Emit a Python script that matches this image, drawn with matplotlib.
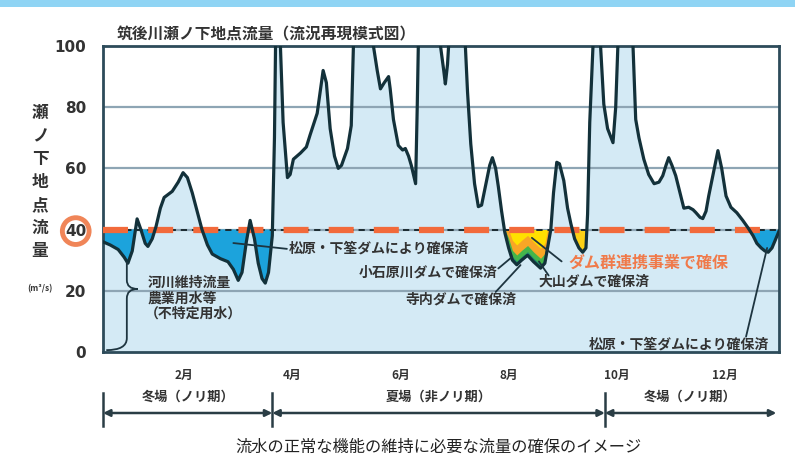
import numpy as np
import matplotlib.pyplot as plt
from matplotlib.patches import Rectangle, PathPatch
from matplotlib.path import Path
from matplotlib.transforms import blended_transform_factory

plt.rcParams['font.family'] = ['Noto Sans CJK JP', 'DejaVu Sans']
plt.rcParams['lines.scale_dashes'] = False

# flow at Senoshita (m3/s); x in months from the start of January
month_pos = [0.00, 0.13, 0.28, 0.39, 0.46, 0.54, 0.63, 0.70, 0.78, 0.83,
             0.91, 0.98, 1.06, 1.13, 1.28, 1.39, 1.48, 1.56, 1.65, 1.74,
             1.83, 1.93, 2.02, 2.17, 2.31, 2.41, 2.50, 2.57, 2.65, 2.72,
             2.80, 2.87, 2.94, 3.00, 3.06, 3.13, 3.17, 3.19, 3.23, 3.28,
             3.33, 3.41, 3.46, 3.52, 3.65, 3.76, 3.83, 3.96, 4.07, 4.13,
             4.20, 4.28, 4.35, 4.41, 4.52, 4.59, 4.63, 4.81, 5.00, 5.07,
             5.13, 5.20, 5.28, 5.31, 5.37, 5.46, 5.54, 5.59, 5.65, 5.70,
             5.78, 5.81, 5.83, 6.04, 6.24, 6.30, 6.33, 6.37, 6.39, 6.54,
             6.70, 6.74, 6.80, 6.87, 6.94, 7.00, 7.07, 7.15, 7.20, 7.26,
             7.31, 7.37, 7.43, 7.50, 7.57, 7.65, 7.74, 7.85, 7.96, 8.09,
             8.17, 8.22, 8.28, 8.33, 8.39, 8.44, 8.52, 8.59, 8.65, 8.72,
             8.80, 8.87, 8.93, 8.96, 9.00, 9.06, 9.13, 9.20, 9.26, 9.33,
             9.43, 9.48, 9.52, 9.65, 9.80, 9.85, 9.91, 10.00, 10.09, 10.19,
             10.28, 10.35, 10.41, 10.46, 10.52, 10.59, 10.67, 10.74, 10.83, 10.91,
             10.96, 11.04, 11.09, 11.15, 11.20, 11.28, 11.37, 11.44, 11.52, 11.61,
             11.72, 11.83, 11.93, 12.02, 12.09, 12.17, 12.24, 12.30, 12.37, 12.44,
             12.50]
flow = [36.0, 35.0, 33.5, 31.0, 29.0, 33.0, 43.5, 40.0, 35.5, 34.5,
        37.0, 41.0, 47.0, 50.5, 52.5, 55.5, 58.6, 57.0, 52.0, 46.0,
        40.0, 35.0, 32.0, 30.5, 29.5, 27.0, 23.4, 26.0, 36.0, 43.0,
        37.0, 29.0, 24.0, 22.5, 26.0, 38.0, 70.0, 100.0, 110.0, 100.0,
        75.0, 57.0, 58.0, 63.0, 65.0, 67.0, 71.0, 78.0, 92.0, 88.0,
        73.0, 64.0, 60.0, 61.0, 66.5, 74.0, 100.0, 125.0, 100.0, 92.0,
        86.0, 88.0, 90.0, 86.0, 76.0, 67.5, 66.0, 66.5, 64.0, 61.0,
        55.0, 80.0, 100.0, 125.0, 100.0, 92.0, 87.6, 94.0, 100.0, 120.0,
        100.0, 85.0, 68.0, 55.0, 47.5, 48.0, 54.0, 61.0, 63.5, 60.0,
        54.0, 46.0, 39.0, 34.0, 30.0, 28.5, 30.0, 31.6, 29.5, 27.4,
        29.0, 34.0, 40.0, 52.0, 62.0, 61.5, 56.0, 47.0, 42.0, 37.0,
        34.0, 32.6, 34.0, 45.0, 75.0, 100.0, 115.0, 100.0, 81.0, 73.0,
        68.4, 80.0, 100.0, 118.0, 100.0, 76.0, 70.0, 63.0, 58.0, 55.0,
        55.5, 57.6, 61.0, 63.5, 61.0, 57.6, 52.0, 47.0, 47.3, 46.5,
        45.6, 44.0, 43.6, 46.0, 51.0, 58.0, 65.8, 60.0, 51.0, 47.3,
        45.5, 43.0, 40.5, 38.0, 35.5, 34.0, 33.0, 32.6, 34.0, 37.0,
        39.5]

target_flow = 40
y_ticks = [0, 20, 40, 60, 80, 100]
month_ticks = [1.5, 3.5, 5.5, 7.5, 9.5, 11.5]
month_labels = ['2月', '4月', '6月', '8月', '10月', '12月']

# shortfall periods and who covers them
blue_spans = [(0.0, 3.2), (12.0, 12.5)]
dam_span = (7.3, 8.3)
dam2_span = (8.5, 9.05)

season_bounds = [0.0, 3.13, 9.28, 12.45]
season_labels = ['冬場（ノリ期）', '夏場（非ノリ期）', '冬場（ノリ期）']

x = np.array(month_pos)
q = np.array(flow)

fig = plt.figure(figsize=(7.95, 4.67), dpi=100)
fig.patches.append(Rectangle((0, 1 - 7 / 467), 1, 7 / 467, transform=fig.transFigure,
                             color='#8fd4f4', lw=0, zorder=0))
ax = fig.add_axes([0.1296, 0.2463, 0.8503, 0.6552])

ax.set_xlim(0, 12.5)
ax.set_ylim(0, 100)

# area under the hydrograph
ax.fill_between(x, 0, q, color='#d4eaf5', lw=0, zorder=1)

below = q < target_flow
for a, b in blue_spans:
    m = below & (x >= a) & (x <= b)
    ax.fill_between(x, q, target_flow, where=m, interpolate=True,
                    color='#1ca3dc', lw=0, zorder=2)

# dam layers in the summer shortfall
m = (x >= dam_span[0]) & (x <= dam_span[1])
layers = [(99, '#ffe100'), (6.5, '#f8a626'), (3.2, '#45b54a'), (1.2, '#1e8c72')]
for off, col in layers:
    top = np.minimum(q + off, target_flow)
    ax.fill_between(x, q, top, where=m & below, interpolate=True,
                    color=col, lw=0, zorder=2)
m2 = below & (x >= dam2_span[0]) & (x <= dam2_span[1])
ax.fill_between(x, q, target_flow, where=m2, interpolate=True,
                color='#fcd116', lw=0, zorder=2)

for yv in y_ticks[1:-1]:
    ax.axhline(yv, color='#8ea5b4', lw=1.6, zorder=1.5)

# target flow line
ax.axhline(target_flow, color='#1b2a30', lw=1.4, dashes=(4.5, 3.5), zorder=3)
ax.axhline(target_flow, color='#f26a3b', lw=4.5, dashes=(18, 14.5), zorder=3.1)

ax.plot(x, q, color='#13313a', lw=2.3, zorder=4, solid_joinstyle='round')

for s in ax.spines.values():
    s.set_color('#2d4b5a')
    s.set_linewidth(2)
ax.tick_params(length=0)
ax.set_yticks(y_ticks)
ax.set_yticklabels([str(v) for v in y_ticks], fontfamily='DejaVu Sans',
                   fontweight='bold', fontsize=11, color='#333333')
ax.tick_params(axis='y', pad=12)
ax.set_xticks(month_ticks)
ax.set_xticklabels(month_labels, fontweight='bold', fontsize=8.5, color='#333333')
ax.tick_params(axis='x', pad=12)
for lbl in ax.get_yticklabels():
    if lbl.get_text() == str(target_flow):
        lbl.set_bbox(dict(boxstyle='circle,pad=0.18', fc='none', ec='#f08558', lw=3.5))

ax.set_title('筑後川瀬ノ下地点流量（流況再現模式図）', loc='left', x=0.02, y=1.0,
             pad=5, fontsize=11.3, fontweight='bold', color='#333333')

# vertical axis label
for i, ch in enumerate('瀬ノ下地点流量'):
    fig.text(40 / 795, 1 - (113 + i * 23) / 467, ch, ha='center', va='center',
             fontsize=12, fontweight='bold', color='#333333')
fig.text(40 / 795, 1 - 289 / 467, '(m³/s)', ha='center', va='center',
         fontsize=6, fontweight='bold', color='#333333')

# annotations
lab = dict(fontsize=10, fontweight='bold', color='#333333', zorder=6)
line = dict(arrowstyle='-', color='#1e3540', lw=1.3, shrinkA=0, shrinkB=0)

ax.annotate('', xy=(2.41, 35.6), xytext=(3.40, 33.7), arrowprops=line, zorder=5)
ax.text(3.43, 33.7, '松原・下筌ダムにより確保済', ha='left', va='center', **lab)

ax.annotate('', xy=(7.56, 31.0), xytext=(7.31, 27.3), arrowprops=line, zorder=5)
ax.text(7.30, 26.1, '小石原川ダムで確保済', ha='right', va='center', **lab)

ax.annotate('', xy=(7.72, 28.4), xytext=(7.26, 19.6), arrowprops=line, zorder=5)
ax.text(6.62, 17.3, '寺内ダムで確保済', ha='center', va='center', **lab)

ax.annotate('', xy=(8.06, 29.6), xytext=(8.24, 25.0), arrowprops=line, zorder=5)
ax.text(8.06, 22.9, '大山ダムで確保済', ha='left', va='center', **lab)

ax.annotate('', xy=(7.93, 37.3), xytext=(8.48, 29.6), arrowprops=line, zorder=5)
ax.text(8.60, 29.0, 'ダム群連携事業で確保', ha='left', va='center',
        fontsize=11.5, fontweight='bold', color='#f07a4a', zorder=6)

ax.annotate('', xy=(12.28, 34.0), xytext=(11.89, 5.0), arrowprops=line, zorder=5)
ax.text(12.32, 2.4, '松原・下筌ダムにより確保済', ha='right', va='center', **lab)

# brace for the base flow
brace = Path([(0.44, 29.5), (0.44, 23.5), (0.44, 20.6), (0.64, 20.6),
              (0.44, 20.6), (0.44, 17.5), (0.44, 4.5), (0.44, 0.6), (0.06, 0.6)],
             [Path.MOVETO, Path.LINETO, Path.CURVE3, Path.CURVE3,
              Path.CURVE3, Path.CURVE3, Path.LINETO, Path.CURVE3, Path.CURVE3])
ax.add_patch(PathPatch(brace, fc='none', ec='#1e3540', lw=1.3, zorder=5))
ax.text(0.83, 22.5, '河川維持流量', ha='left', va='center', **lab)
ax.text(0.83, 17.6, '農業用水等', ha='left', va='center', **lab)
ax.text(0.78, 12.7, '（不特定用水）', ha='left', va='center', **lab)

# season arrows under the axis
tr = blended_transform_factory(ax.transData, fig.transFigure)
y_arrow = 1 - 413 / 467
for a, b in zip(season_bounds[:-1], season_bounds[1:]):
    ax.annotate('', xy=(a, y_arrow), xytext=(b, y_arrow), xycoords=tr, textcoords=tr,
                arrowprops=dict(arrowstyle='<|-|>', color='#2a3d45', lw=1.8,
                                mutation_scale=10, shrinkA=0, shrinkB=0),
                annotation_clip=False)
for xb in season_bounds[:-1]:
    ax.plot([xb, xb], [1 - 393 / 467, 1 - 426 / 467], transform=tr, color='#2a3d45',
            lw=1.8, clip_on=False)
for a, b, t in zip(season_bounds[:-1], season_bounds[1:], season_labels):
    ax.text((a + b) / 2, 1 - 397 / 467, t, transform=tr, ha='center', va='center',
            fontsize=9.5, fontweight='bold', color='#333333')

fig.text(438 / 795, 1 - 447 / 467, '流水の正常な機能の維持に必要な流量の確保のイメージ',
         ha='center', va='center', fontsize=11.7, color='#222222')

fig.savefig('out.png', dpi=100)
